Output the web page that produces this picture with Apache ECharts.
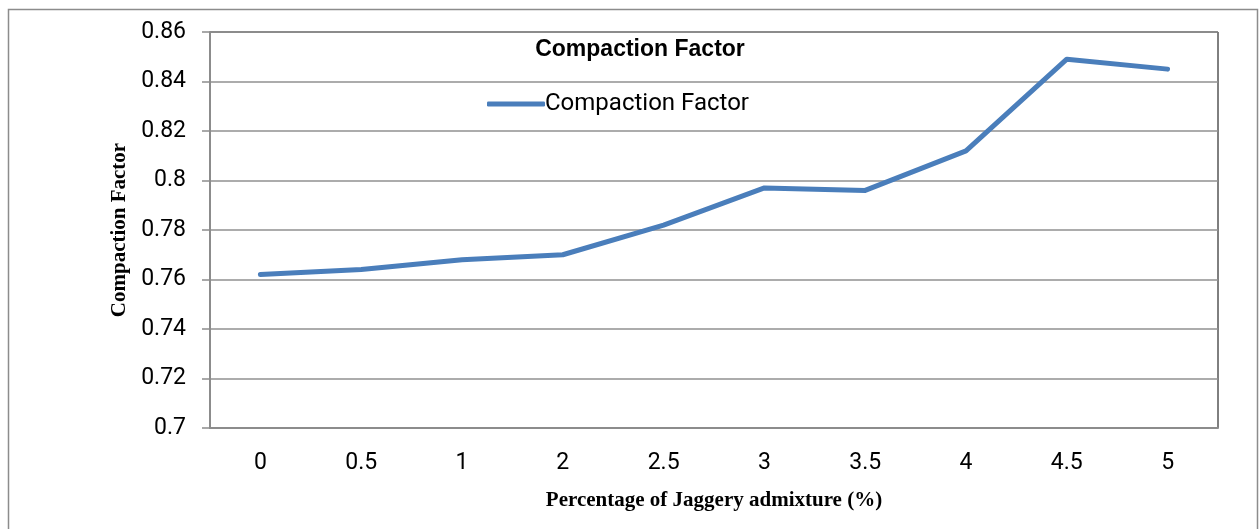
<!DOCTYPE html>
<html>
<head>
<meta charset="utf-8">
<script src="https://cdn.jsdelivr.net/npm/echarts@6/dist/echarts.min.js"></script>
<style>
  html, body { margin: 0; padding: 0; background: #fff; }
  #chart { width: 1260px; height: 529px; }
</style>
</head>
<body>
<div id="chart"></div>
<script>
// jaggery admixture (%) - note 1.5 is not in the original
var categories = ['0', '0.5', '1', '2', '2.5', '3', '3.5', '4', '4.5', '5'];
var compactionFactor = [0.762, 0.764, 0.768, 0.770, 0.782, 0.797, 0.796, 0.812, 0.849, 0.845];
var yMin = 0.70, yMax = 0.86, yStep = 0.02;

var myChart = echarts.init(document.getElementById('chart'));
var lineColor = '#4a7ebb';

var options = {
    animation: false,
    title: {
        text: 'Compaction Factor',
        left: 635,
        top: 33,
        textAlign: 'center',
        textStyle: {
            fontFamily: 'Liberation Sans, sans-serif',
            fontWeight: 'bold',
            fontSize: 23,
            color: '#000'
        }
    },
    legend: {
        data: ['Compaction Factor'],
        left: 482,
        top: 87,
        itemWidth: 58,
        itemHeight: 5,
        itemGap: 0,
        icon: 'roundRect',
        textStyle: {
            fontFamily: 'Roboto, sans-serif',
            fontSize: 24,
            color: '#000',
            padding: [0, 0, 0, -5]
        }
    },
    grid: {
        left: 210,
        top: 32,
        width: 1008,
        height: 396,
        show: true,
        borderColor: '#000',
        borderWidth: 1
    },
    xAxis: {
        type: 'category',
        data: categories,
        boundaryGap: true,
        name: 'Percentage of Jaggery admixture (%)',
        nameLocation: 'middle',
        nameGap: 62,
        nameTextStyle: {
            fontFamily: 'Liberation Serif, serif',
            fontWeight: 'bold',
            fontSize: 21,
            color: '#000'
        },
        axisLine: { show: true, lineStyle: { color: '#8c8c8c', width: 2 } },
        axisTick: { show: false },
        axisLabel: {
            margin: 24,
            fontFamily: 'Roboto, sans-serif',
            fontSize: 23,
            color: '#000'
        },
        splitLine: { show: false }
    },
    yAxis: {
        type: 'value',
        min: yMin,
        max: yMax,
        interval: yStep,
        name: 'Compaction Factor',
        nameLocation: 'middle',
        nameGap: 79,
        nameRotate: 90,
        nameTextStyle: {
            fontFamily: 'Liberation Serif, serif',
            fontWeight: 'bold',
            fontSize: 21,
            color: '#000'
        },
        axisLine: { show: true, lineStyle: { color: '#8c8c8c', width: 2 } },
        axisTick: { show: true, inside: false, length: 8, lineStyle: { color: '#8c8c8c', width: 1.5 } },
        axisLabel: {
            margin: 24,
            fontFamily: 'Roboto, sans-serif',
            fontSize: 23,
            color: '#000',
            formatter: function (v) { return String(parseFloat(v.toFixed(2))); }
        },
        splitLine: { show: true, lineStyle: { color: '#909090', width: 1.5 } }
    },
    graphic: [
        {
            type: 'rect',
            shape: { x: 8.5, y: 9.5, width: 1249, height: 530 },
            style: { fill: 'none', stroke: '#8c8c8c', lineWidth: 1.5 },
            silent: true,
            z: -1
        }
    ],
    series: [
        {
            name: 'Compaction Factor',
            type: 'line',
            data: compactionFactor,
            showSymbol: false,
            symbol: 'none',
            itemStyle: { color: lineColor },
            lineStyle: { color: lineColor, width: 5, cap: 'round', join: 'round' }
        }
    ]
};
myChart.setOption(options);
</script>
</body>
</html>
